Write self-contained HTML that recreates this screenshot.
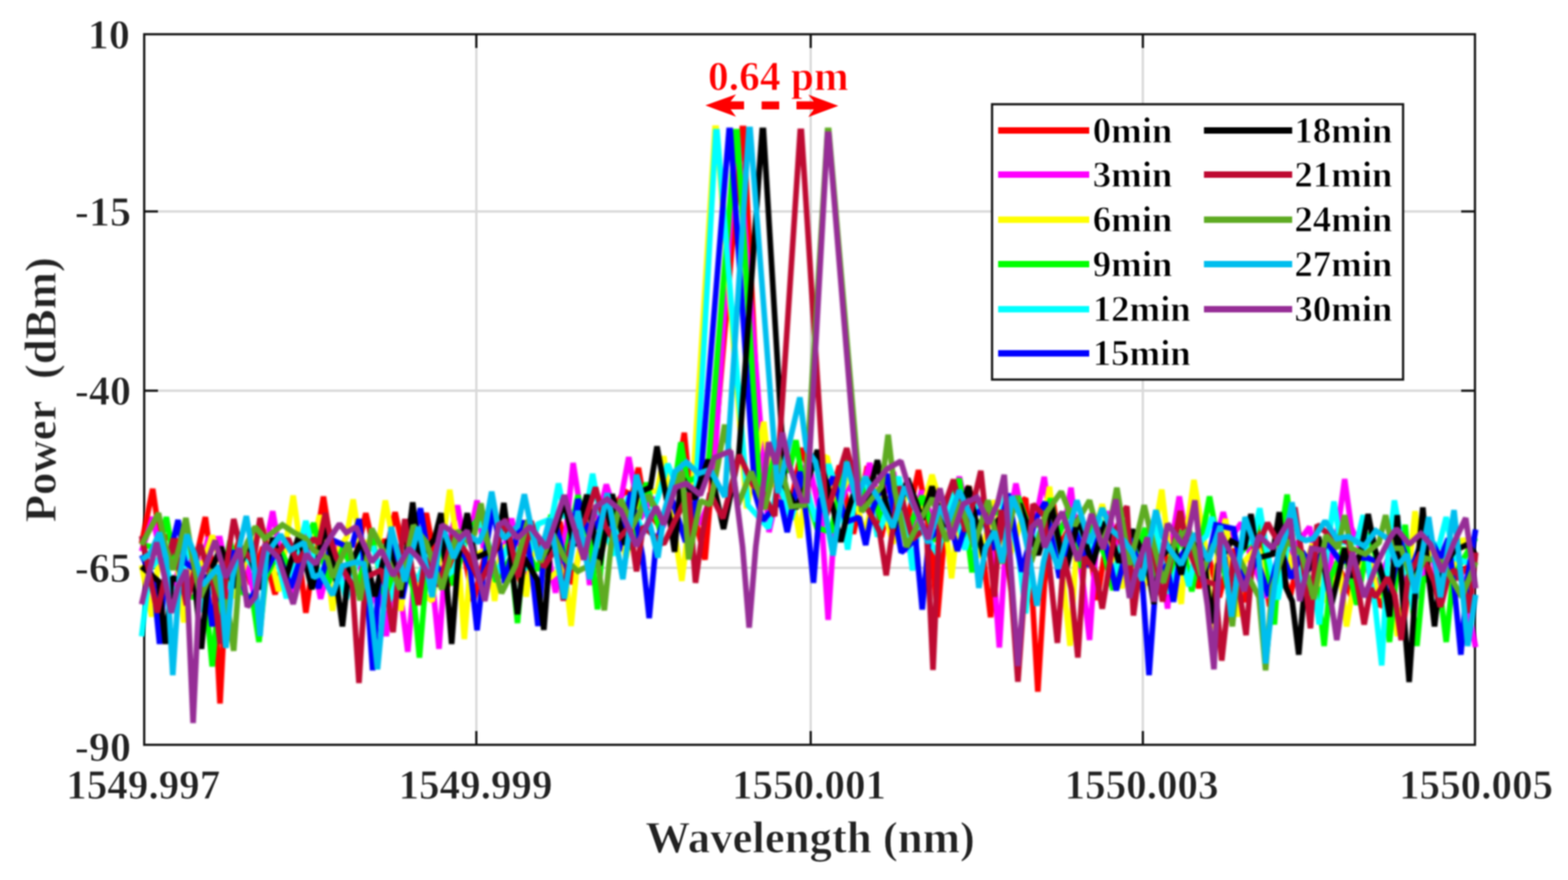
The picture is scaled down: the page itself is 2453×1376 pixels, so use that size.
<!DOCTYPE html>
<html lang="en"><head><meta charset="utf-8"><title>Wavelength stability</title>
<style>
html,body{margin:0;padding:0;background:#fff}
body{width:2453px;height:1376px;overflow:hidden}
svg{display:block}
text{font-family:"Liberation Serif","DejaVu Serif",serif;font-weight:bold;stroke:#fff;stroke-width:1.1px;stroke-linejoin:round}
.tk{font-size:66px;fill:#222}
.lb{font-size:70px;fill:#222}
.lg{font-size:57.5px;fill:#000}
.an{font-size:66px;fill:#ff0000}
.s{fill:none;stroke-width:8.8;stroke-linejoin:miter;stroke-miterlimit:1.45;stroke-linecap:butt}
</style></head>
<body>
<svg width="2453" height="1376" viewBox="0 0 2453 1376">
<rect width="2453" height="1376" fill="#fff"/>
<filter id="sf" x="0" y="0" width="2453" height="1376" filterUnits="userSpaceOnUse" color-interpolation-filters="sRGB"><feGaussianBlur stdDeviation="1.0"/></filter>
<g filter="url(#sf)">
<g stroke="#d9d9d9" stroke-width="3.6" fill="none">
<line x1="745.2" y1="53.5" x2="745.2" y2="1164.6"/>
<line x1="1268.3" y1="53.5" x2="1268.3" y2="1164.6"/>
<line x1="1787.9" y1="53.5" x2="1787.9" y2="1164.6"/>
<line x1="225.6" y1="330.6" x2="2307.4" y2="330.6"/>
<line x1="225.6" y1="610.9" x2="2307.4" y2="610.9"/>
<line x1="225.6" y1="887.9" x2="2307.4" y2="887.9"/>
</g>
<g stroke="#141414" stroke-width="3.5" fill="none">
<rect x="225.60" y="53.55" width="2081.85" height="1111.05"/>
<line x1="745.2" y1="53.5" x2="745.2" y2="75.0"/>
<line x1="745.2" y1="1164.6" x2="745.2" y2="1143.1"/>
<line x1="1268.3" y1="53.5" x2="1268.3" y2="75.0"/>
<line x1="1268.3" y1="1164.6" x2="1268.3" y2="1143.1"/>
<line x1="1787.9" y1="53.5" x2="1787.9" y2="75.0"/>
<line x1="1787.9" y1="1164.6" x2="1787.9" y2="1143.1"/>
<line x1="225.6" y1="330.6" x2="247.1" y2="330.6"/>
<line x1="2307.4" y1="330.6" x2="2285.9" y2="330.6"/>
<line x1="225.6" y1="610.9" x2="247.1" y2="610.9"/>
<line x1="2307.4" y1="610.9" x2="2285.9" y2="610.9"/>
<line x1="225.6" y1="887.9" x2="247.1" y2="887.9"/>
<line x1="2307.4" y1="887.9" x2="2285.9" y2="887.9"/>
</g>
</g>
<clipPath id="cp"><rect x="214" y="53.5" width="2102" height="1111.0"/></clipPath>
<filter id="bl" x="0" y="0" width="100%" height="100%" filterUnits="userSpaceOnUse" color-interpolation-filters="sRGB"><feGaussianBlur stdDeviation="1.5"/></filter>
<g clip-path="url(#cp)"><g filter="url(#bl)">
<polyline class="s" stroke="#ff0000" points="221.5,850.0 238.9,764.3 249.2,836.0 275.5,845.1 298.4,890.9 311.0,854.1 321.3,808.5 333.9,903.1 344.2,1100.0 354.5,903.1 373.4,847.0 392.4,913.6 411.3,855.3 430.3,929.3 449.2,845.1 468.2,872.6 478.5,958.1 495.7,839.5 506.0,776.5 516.3,842.1 539.1,926.9 562.0,848.2 572.3,802.4 582.6,848.2 607.8,845.6 618.1,800.9 628.4,848.2 656.6,844.2 666.9,802.4 677.2,857.4 698.3,924.2 719.4,832.4 740.5,939.8 761.6,857.4 773.8,909.2 786.0,857.4 794.3,853.7 814.7,910.7 835.0,831.2 855.4,879.8 875.7,815.9 896.1,913.4 916.4,812.1 936.8,848.7 957.1,796.6 977.5,768.2 988.5,774.4 998.8,731.6 1009.1,792.6 1034.7,827.2 1060.2,740.2 1070.5,676.6 1080.8,783.1 1103.0,875.0 1161.2,200.8 1163.2,200.8 1192.0,770.0 1212.8,741.2 1233.6,806.7 1254.4,700.7 1269.7,752.6 1291.5,802.7 1313.3,728.2 1335.1,834.6 1356.9,729.1 1378.7,840.1 1398.1,753.4 1417.5,823.9 1436.9,735.1 1456.3,843.1 1466.6,965.2 1476.9,843.1 1496.5,786.7 1516.1,760.7 1531.3,843.1 1539.4,878.1 1549.7,965.2 1560.0,843.1 1582.3,800.5 1604.6,779.0 1613.3,904.2 1623.6,1081.5 1633.9,913.7 1646.5,779.4 1658.7,852.6 1682.6,806.6 1706.4,870.9 1716.7,938.1 1727.0,870.9 1748.2,824.2 1769.3,929.9 1790.4,830.6 1811.6,906.6 1832.7,852.6 1848.0,809.9 1863.2,858.7 1875.4,919.8 1887.7,858.7 1907.4,933.8 1927.1,858.0 1946.8,941.4 1966.5,824.2 1986.2,948.1 2005.9,890.9 2018.1,933.7 2030.3,878.7 2048.6,921.6 2066.9,890.9 2079.1,933.7 2091.3,878.7 2114.0,932.4 2136.6,858.3 2159.2,948.3 2181.8,928.8 2192.1,997.8 2202.4,928.8 2222.7,856.5 2243.1,909.4 2253.4,952.0 2263.7,909.4 2280.8,903.1 2308.5,872.0"/>
<polyline class="s" stroke="#ff00ff" points="221.5,862.0 238.9,808.5 249.2,857.4 268.2,943.0 287.2,851.6 306.2,922.9 325.2,843.0 344.2,842.1 362.2,931.6 380.3,858.5 398.3,932.6 416.3,849.6 426.6,799.4 436.9,857.4 459.2,931.1 481.6,832.9 501.6,936.3 521.7,850.7 541.8,909.2 559.2,860.7 576.6,954.8 594.1,903.1 604.4,994.7 614.7,903.1 627.6,936.4 637.9,1019.1 648.2,903.1 676.5,909.2 686.8,1014.5 697.1,872.6 705.5,837.1 715.8,790.2 726.1,848.2 736.0,832.6 746.3,782.6 756.6,857.4 778.5,898.5 800.4,810.9 819.9,912.4 839.3,839.5 858.8,872.0 869.1,926.9 886.3,823.1 896.6,723.9 912.2,823.1 922.5,914.7 932.8,823.1 948.5,757.5 965.2,810.9 973.3,770.0 983.6,714.8 993.9,770.0 1001.9,810.9 1019.5,777.4 1037.2,824.5 1054.9,757.5 1065.2,716.0 1075.5,770.9 1095.2,819.9 1115.0,770.0 1151.4,207.8 1153.4,207.8 1203.0,832.0 1220.8,752.6 1242.3,785.8 1263.8,718.5 1285.3,813.7 1295.6,969.3 1305.9,813.7 1325.5,758.7 1345.2,782.1 1360.4,724.1 1375.7,788.2 1397.7,738.0 1419.6,863.1 1441.6,767.3 1463.6,825.6 1485.6,797.4 1500.8,745.5 1516.1,812.6 1534.6,778.9 1553.1,873.7 1563.4,1012.5 1573.7,843.1 1589.3,756.1 1604.6,830.9 1623.3,797.4 1633.6,745.5 1643.9,822.1 1665.2,822.1 1675.5,762.6 1685.8,852.6 1694.2,911.8 1704.5,1000.7 1714.8,852.6 1735.1,799.8 1755.4,905.8 1775.7,839.8 1796.0,914.3 1816.3,870.9 1826.6,951.8 1834.6,837.4 1844.9,776.3 1855.2,837.4 1879.3,900.5 1903.3,842.9 1913.6,800.7 1923.9,842.9 1941.8,817.7 1957.0,872.6 1981.5,934.1 2005.9,878.7 2027.2,853.4 2048.6,823.8 2070.9,929.6 2093.3,824.7 2103.6,749.0 2113.9,824.7 2128.2,857.4 2151.1,921.9 2174.0,867.1 2196.9,908.3 2219.8,933.7 2238.1,857.5 2256.4,939.3 2274.7,842.4 2293.0,933.7 2308.5,1012.0"/>
<polyline class="s" stroke="#ffff00" points="221.5,884.0 237.4,964.2 247.7,878.7 277.4,878.7 287.7,973.3 298.0,890.9 318.3,878.7 332.0,837.5 345.7,878.7 367.6,934.8 389.5,857.7 411.3,826.8 423.6,872.6 435.8,924.5 448.4,842.1 458.7,774.9 469.0,848.2 489.6,851.7 499.9,805.5 510.1,872.6 520.4,955.0 530.7,857.4 542.2,840.0 552.5,781.0 562.8,848.2 592.5,848.2 602.8,782.6 616.9,857.4 627.2,955.0 637.5,872.6 656.8,925.0 676.1,939.8 693.3,842.1 703.6,765.8 716.1,857.4 726.4,999.3 736.7,872.6 763.5,857.4 773.8,939.8 784.1,857.4 794.3,853.7 813.0,859.8 823.3,933.0 833.6,853.7 858.4,905.0 883.2,884.2 893.5,978.8 903.8,872.0 922.7,790.7 941.6,862.7 960.5,788.2 979.4,872.1 998.2,784.3 1017.1,768.2 1028.2,768.2 1038.5,713.3 1048.8,792.6 1056.4,838.1 1066.7,908.3 1082.5,780.0 1118.5,200.3 1120.5,200.3 1168.0,795.0 1194.9,659.5 1205.2,752.6 1241.0,783.1 1251.3,841.1 1261.6,752.6 1280.3,709.9 1294.1,716.0 1309.3,783.1 1330.3,742.5 1351.3,834.0 1374.2,762.3 1397.0,849.8 1419.9,760.7 1442.8,797.4 1458.1,742.4 1478.3,812.6 1488.6,904.2 1498.9,812.6 1534.4,870.6 1555.8,782.4 1577.1,876.5 1598.5,812.6 1631.6,822.1 1641.9,761.0 1652.2,852.6 1663.7,911.8 1674.0,1009.8 1684.3,852.6 1710.6,837.4 1724.4,788.5 1738.1,846.5 1754.9,919.8 1768.6,852.6 1787.9,926.5 1807.2,825.5 1817.5,765.6 1827.8,852.6 1848.0,944.2 1857.5,822.1 1867.8,750.4 1885.0,852.6 1895.3,983.9 1905.6,857.4 1917.4,811.6 1925.4,872.6 1935.7,964.2 1946.0,878.7 1967.5,854.4 1988.9,925.2 2010.4,855.8 2031.9,913.1 2053.4,850.5 2074.8,941.5 2096.3,890.9 2106.6,979.4 2116.9,918.4 2136.5,849.1 2156.1,932.8 2175.7,903.1 2186.0,994.7 2203.4,903.1 2213.7,799.4 2224.0,878.7 2246.3,856.3 2268.6,903.1 2288.6,842.1 2308.5,884.0"/>
<polyline class="s" stroke="#00ff00" points="221.5,852.0 250.0,857.4 260.3,808.5 270.6,866.5 296.1,933.4 321.7,933.7 332.0,1042.0 342.3,933.7 359.8,845.5 377.4,925.2 394.9,935.6 405.2,1003.9 415.5,903.1 437.9,858.7 460.2,903.1 490.7,817.7 513.8,912.0 537.0,855.9 560.1,915.3 581.6,837.5 603.0,938.8 624.5,855.2 645.9,918.4 656.2,1028.3 666.5,903.1 688.0,851.5 709.5,914.8 730.9,833.7 752.4,805.5 775.8,909.4 799.3,872.0 809.6,974.2 819.9,853.7 841.0,892.2 862.0,805.2 883.1,875.9 904.2,774.3 924.4,853.7 934.7,952.9 945.0,823.1 967.0,797.2 989.0,859.0 1010.9,754.8 1032.9,831.5 1054.9,762.1 1065.2,691.6 1075.5,752.6 1107.0,740.0 1151.2,205.8 1153.2,205.8 1190.0,790.0 1212.5,711.3 1234.9,737.4 1245.2,688.5 1255.5,752.6 1277.9,825.2 1300.2,832.0 1324.6,716.0 1339.9,783.1 1359.3,753.5 1378.7,812.6 1400.1,765.0 1421.5,828.3 1442.8,775.4 1464.2,846.6 1485.6,797.4 1500.8,748.5 1510.4,812.6 1520.7,895.0 1531.0,818.7 1554.0,797.5 1577.1,812.6 1592.4,776.0 1607.7,818.7 1631.3,822.1 1643.5,779.4 1655.7,837.4 1674.0,795.0 1692.3,888.2 1710.6,821.0 1728.9,870.9 1741.1,922.8 1753.4,852.6 1772.4,885.1 1791.5,825.8 1810.6,903.8 1829.7,913.7 1847.1,829.1 1864.5,924.7 1881.9,832.1 1892.2,776.3 1902.5,832.1 1921.7,924.7 1940.9,864.3 1960.1,842.1 1972.3,808.5 1983.4,890.9 1993.7,976.4 2003.2,842.1 2013.5,773.4 2023.8,857.4 2042.5,929.2 2061.2,918.4 2071.5,1010.0 2081.8,903.1 2102.2,856.2 2122.6,945.6 2143.0,832.6 2163.5,918.4 2173.8,1003.9 2184.1,903.1 2198.4,820.7 2206.4,918.4 2216.7,1010.0 2227.0,903.1 2252.2,918.4 2262.5,1003.9 2272.8,903.1 2308.5,841.0"/>
<polyline class="s" stroke="#00ffff" points="221.5,995.0 234.3,890.9 255.1,865.6 275.8,944.4 296.6,849.5 317.3,956.6 338.1,890.9 359.5,918.4 383.9,866.5 408.3,909.2 428.3,849.9 448.2,935.5 468.2,855.7 478.5,814.6 488.8,857.4 499.1,903.1 520.4,857.1 541.8,936.6 563.2,860.4 584.5,857.4 608.9,940.1 633.4,872.6 652.4,908.7 671.5,862.4 690.6,907.9 709.7,890.9 732.6,831.4 755.4,817.7 777.0,898.5 798.6,843.6 820.2,891.4 841.8,819.3 863.4,810.9 873.7,756.0 884.0,806.4 916.8,798.7 927.1,740.7 937.4,798.7 960.4,868.5 983.4,775.3 1006.4,834.1 1029.3,777.4 1044.6,725.5 1059.9,762.1 1088.0,780.0 1119.8,205.8 1121.8,205.8 1170.0,790.0 1202.5,825.9 1217.8,752.6 1237.4,812.6 1257.0,747.5 1276.6,815.3 1296.2,725.8 1315.8,783.1 1326.1,859.4 1336.4,783.1 1354.6,745.3 1372.8,839.2 1390.9,788.2 1406.2,745.5 1417.3,812.6 1427.6,892.0 1437.9,818.7 1467.2,867.6 1488.4,771.4 1509.6,859.5 1530.8,783.8 1552.0,858.8 1573.1,775.3 1594.3,873.7 1604.6,959.1 1614.9,855.3 1636.1,810.5 1657.3,878.4 1678.5,813.0 1699.7,869.9 1720.8,811.5 1742.0,901.3 1763.2,818.5 1784.4,908.0 1805.6,810.5 1826.8,927.7 1848.0,870.9 1860.2,916.7 1872.4,852.6 1887.7,837.4 1896.0,808.5 1908.2,857.4 1925.6,912.6 1943.1,856.1 1960.5,842.1 1970.8,794.8 1981.1,857.4 1999.2,937.2 2017.3,834.9 2035.5,908.7 2053.6,903.1 2063.9,976.4 2076.5,857.4 2086.8,784.1 2097.1,848.2 2122.5,848.3 2132.8,805.5 2143.1,903.1 2151.3,946.9 2161.6,1040.5 2171.1,872.6 2181.4,782.6 2191.7,842.1 2211.2,953.4 2230.8,836.1 2250.3,857.4 2262.5,808.5 2274.7,872.6 2308.5,884.0"/>
<polyline class="s" stroke="#0000ff" points="221.5,868.0 239.3,903.1 249.6,1006.9 259.9,872.6 268.3,856.2 278.6,813.1 288.9,878.7 321.7,903.1 332.0,979.4 342.3,903.1 365.3,861.1 388.3,942.6 411.3,903.1 433.1,858.7 454.8,919.0 476.6,854.5 498.3,919.9 520.0,844.3 541.8,854.3 551.3,852.4 561.6,811.6 572.7,903.1 583.0,1048.1 593.3,903.1 611.4,835.9 629.4,935.9 647.5,842.1 657.8,794.8 668.1,857.4 690.7,898.0 713.4,839.8 736.0,890.9 746.3,985.6 760.4,857.4 770.7,793.3 781.0,848.2 789.7,911.7 803.5,853.7 818.7,814.0 831.3,884.2 841.6,978.8 851.9,853.7 869.3,818.6 886.8,890.2 904.2,780.4 922.5,838.4 950.0,792.6 968.4,861.7 986.9,769.6 1005.3,870.5 1015.6,966.6 1025.9,853.7 1049.3,774.4 1072.6,847.4 1096.0,750.0 1140.5,203.8 1142.5,203.8 1181.0,770.0 1193.4,813.7 1221.2,783.1 1231.5,832.0 1251.3,737.4 1262.4,813.7 1272.7,911.3 1283.0,783.1 1303.3,745.9 1323.7,816.1 1344.0,808.8 1354.3,852.3 1364.6,797.4 1387.3,741.0 1409.9,864.0 1432.5,843.1 1442.8,953.0 1453.1,843.1 1485.6,812.6 1497.8,861.5 1513.0,812.6 1534.4,798.0 1555.8,859.4 1577.1,771.8 1598.5,893.8 1619.9,812.6 1635.1,785.1 1657.4,903.8 1679.6,822.3 1701.9,886.1 1724.1,825.3 1746.4,923.2 1768.6,834.3 1787.3,913.7 1797.6,1055.6 1807.9,913.7 1825.5,883.1 1835.8,941.1 1846.1,870.9 1864.7,846.9 1883.4,904.3 1902.1,820.7 1929.6,826.8 1947.9,917.1 1966.2,872.6 1984.5,931.7 2002.8,857.4 2020.1,904.1 2037.4,862.6 2054.7,890.9 2076.1,847.9 2097.5,878.7 2116.0,872.6 2140.2,872.6 2155.7,878.7 2173.0,940.1 2190.3,845.8 2207.6,890.9 2230.5,829.1 2253.4,872.6 2265.6,842.1 2275.1,918.4 2285.4,1023.7 2295.7,903.1 2308.5,828.0"/>
<polyline class="s" stroke="#000000" points="221.5,886.0 248.4,909.2 258.7,1006.9 269.0,903.1 304.9,915.3 315.2,1014.5 325.5,903.1 345.8,855.3 366.1,919.0 386.4,852.1 406.7,921.3 427.0,841.2 447.3,903.4 467.6,836.9 487.9,921.3 508.2,820.7 525.4,903.1 535.7,979.4 546.0,887.9 566.3,845.2 586.6,932.4 606.9,844.2 627.2,933.7 645.6,785.6 655.9,872.6 679.5,843.3 689.8,802.4 706.6,1006.9 716.9,872.6 731.0,802.4 743.2,872.6 777.9,857.4 788.2,786.5 799.3,872.0 809.6,960.5 819.9,872.0 840.5,906.5 850.8,984.9 861.1,853.7 882.8,783.5 898.1,853.7 918.0,773.5 937.9,884.1 957.8,772.8 977.7,851.8 997.6,770.9 1017.5,762.1 1027.8,698.0 1045.0,792.6 1055.3,862.8 1065.6,743.5 1086.5,780.1 1107.9,719.0 1131.9,827.2 1156.0,710.0 1192.4,203.8 1194.4,203.8 1228.0,760.0 1245.2,795.3 1263.6,752.6 1278.8,703.8 1297.1,770.9 1305.1,803.0 1315.4,847.2 1325.7,803.0 1333.8,777.0 1357.4,782.1 1372.6,719.5 1384.8,782.1 1397.0,830.9 1419.9,748.2 1442.8,812.6 1458.1,760.7 1473.4,812.6 1491.7,830.9 1515.1,760.6 1538.5,870.2 1561.9,812.6 1595.4,788.2 1610.7,830.9 1624.4,867.6 1645.5,792.0 1666.5,897.0 1687.5,810.1 1708.6,883.6 1729.6,815.9 1750.6,879.4 1771.7,828.2 1794.9,883.1 1805.2,944.2 1815.5,870.9 1835.8,852.6 1848.0,898.4 1860.2,837.4 1885.0,883.1 1895.3,974.7 1905.6,883.1 1926.2,846.2 1946.7,857.4 1957.0,803.9 1967.3,872.6 1991.0,866.5 2001.3,800.9 2011.6,918.4 2021.5,939.9 2031.8,1023.7 2042.1,903.1 2062.6,839.4 2083.1,945.5 2103.6,857.4 2115.8,903.1 2130.1,857.4 2140.4,803.9 2150.7,857.4 2163.5,903.1 2173.8,964.2 2186.0,805.5 2194.2,933.7 2204.5,1066.4 2215.6,903.1 2225.9,793.3 2233.9,890.9 2244.2,979.4 2254.5,890.9 2275.3,861.1 2296.1,851.2 2308.5,868.0"/>
<polyline class="s" stroke="#be0a32" points="221.5,838.0 246.2,957.8 270.9,842.1 291.9,946.4 312.9,851.1 333.9,915.3 344.2,1006.9 355.3,878.7 365.6,811.6 375.9,855.1 396.5,878.7 406.8,810.0 417.1,854.2 435.8,863.5 451.0,842.1 464.8,878.7 490.7,842.1 498.7,850.4 509.0,802.4 519.3,850.4 526.5,872.6 551.3,915.3 561.6,1068.0 571.9,903.1 596.7,890.9 604.7,924.6 615.0,988.6 625.3,872.6 633.4,811.6 644.4,890.9 654.7,945.9 665.0,872.6 687.0,916.3 709.0,835.2 731.0,866.5 750.9,911.0 770.7,872.6 790.8,811.6 810.8,902.3 830.9,814.8 850.9,887.1 871.0,853.7 881.3,939.1 891.6,853.7 916.4,810.9 931.7,762.1 946.9,823.1 962.2,847.6 985.5,823.1 995.8,893.3 1006.1,823.1 1038.5,850.6 1056.0,813.7 1077.7,770.9 1088.0,911.3 1098.3,836.0 1110.9,770.9 1130.8,810.6 1156.7,711.4 1178.1,758.7 1193.4,770.9 1212.0,807.0 1251.8,205.3 1253.8,205.3 1292.5,807.0 1324.6,700.7 1334.9,742.3 1342.9,770.9 1366.5,812.6 1376.1,831.8 1386.4,899.6 1406.2,760.7 1427.6,843.1 1449.3,824.8 1459.6,1047.6 1469.9,812.6 1491.7,750.0 1510.0,830.9 1524.1,780.1 1534.4,736.3 1555.8,933.2 1566.1,797.4 1582.1,925.3 1592.4,1066.0 1602.7,925.3 1616.0,788.5 1633.6,806.5 1654.2,1005.2 1664.5,870.9 1675.9,921.1 1686.2,1028.1 1696.5,870.9 1714.1,893.8 1724.4,951.8 1744.2,831.2 1762.9,791.6 1773.2,962.5 1783.5,883.1 1801.0,837.1 1818.6,940.6 1836.1,852.6 1846.4,799.2 1856.7,852.6 1878.9,906.3 1901.0,913.7 1911.3,1032.9 1921.6,940.3 1929.6,872.6 1939.1,924.7 1949.4,993.2 1959.7,872.6 1983.0,817.7 1999.8,848.2 2015.4,842.9 2025.7,793.3 2039.8,890.9 2050.1,982.5 2060.4,820.7 2079.1,836.0 2109.7,848.2 2123.8,915.3 2134.1,976.4 2144.4,920.1 2152.4,933.7 2170.7,903.1 2181.8,930.1 2192.1,1000.8 2202.4,903.1 2222.7,863.9 2243.1,908.1 2253.4,948.9 2263.7,908.1 2274.7,890.9 2288.8,911.7 2299.1,958.1 2308.5,864.0"/>
<polyline class="s" stroke="#5eab22" points="221.5,852.0 248.0,802.4 258.3,851.9 270.9,890.9 280.5,854.9 290.8,810.0 301.1,872.6 313.7,933.7 332.0,890.9 347.2,939.8 355.3,941.6 365.6,1017.6 375.9,878.7 386.9,848.2 399.1,823.8 414.4,842.1 441.9,820.7 460.2,832.9 478.5,842.1 490.7,860.4 512.1,872.6 520.4,903.1 544.8,848.2 563.2,938.7 581.5,826.8 605.9,872.6 626.2,921.7 646.6,821.4 666.9,848.2 691.3,921.5 715.8,829.9 734.1,848.2 742.1,834.3 752.4,787.2 762.7,848.2 784.6,927.4 806.5,884.2 826.1,813.1 845.6,879.1 865.1,834.7 884.7,875.6 904.2,893.3 935.1,877.2 945.4,954.4 955.7,853.7 971.3,780.4 989.7,823.1 1014.1,774.3 1035.4,810.9 1067.1,737.4 1077.4,874.7 1087.7,822.3 1095.7,783.1 1110.9,789.2 1123.5,725.1 1133.8,664.1 1154.6,789.3 1175.4,737.4 1196.2,796.1 1216.9,710.7 1237.7,792.1 1258.5,790.0 1294.6,203.8 1296.6,203.8 1348.0,800.0 1379.1,760.7 1389.4,679.8 1399.7,766.8 1418.4,855.3 1436.7,818.7 1458.5,778.9 1480.3,845.9 1502.1,784.9 1523.9,854.8 1545.7,782.2 1567.5,881.1 1589.3,776.0 1613.4,878.6 1637.4,800.7 1660.3,768.7 1681.6,822.1 1704.5,782.4 1722.8,852.6 1736.9,817.1 1747.2,762.6 1767.1,883.1 1779.7,834.0 1790.0,790.0 1800.3,834.0 1820.2,911.4 1840.2,840.8 1860.2,828.2 1879.4,899.6 1898.6,850.9 1917.7,890.9 1928.0,979.4 1938.3,872.6 1969.6,933.7 1979.9,1048.1 1990.2,918.4 2013.3,845.7 2036.4,866.5 2055.4,936.8 2074.3,837.4 2093.3,857.4 2103.6,805.5 2113.9,857.4 2135.8,866.5 2157.4,848.2 2167.7,805.5 2178.0,857.4 2192.3,857.4 2210.6,913.0 2228.9,872.6 2256.4,878.7 2286.9,933.7 2308.5,879.0"/>
<polyline class="s" stroke="#00beee" points="221.5,875.0 234.3,866.5 249.6,832.9 260.0,872.6 270.3,1055.8 280.6,903.1 292.3,836.0 304.5,866.5 316.7,915.3 343.1,884.8 353.4,1013.0 363.7,903.1 375.1,853.0 385.4,807.0 396.5,872.6 406.8,994.7 417.1,866.5 438.8,836.0 454.1,860.4 475.4,848.2 490.7,903.1 502.1,897.0 520.4,930.6 535.7,884.8 557.0,878.7 569.3,881.8 580.3,949.9 590.6,1046.6 612.0,823.8 633.4,909.2 654.7,823.8 676.1,933.7 691.3,820.7 709.7,872.6 728.0,832.9 749.3,848.2 758.9,825.9 769.2,768.8 779.5,825.9 789.0,842.1 810.0,822.7 820.3,772.8 830.6,822.7 843.2,875.0 859.9,810.9 882.8,936.1 904.2,798.7 922.5,905.6 950.0,771.2 974.4,905.6 995.8,742.3 1019.0,828.6 1029.3,872.0 1039.6,798.7 1056.0,737.4 1073.6,722.4 1092.6,740.4 1110.9,734.3 1134.0,777.0 1171.6,202.3 1173.6,202.3 1217.0,771.0 1251.3,621.4 1261.6,701.9 1275.8,722.1 1292.9,810.8 1303.2,868.6 1324.6,722.1 1339.9,783.1 1353.6,746.5 1375.7,782.1 1397.0,824.8 1415.4,760.7 1436.7,806.5 1452.0,849.2 1470.3,791.2 1482.5,818.7 1500.8,766.8 1521.0,812.6 1531.3,919.4 1541.6,856.7 1555.8,830.9 1568.0,879.8 1583.2,776.0 1598.5,812.6 1611.8,879.1 1622.1,947.2 1632.4,879.1 1640.4,846.5 1655.7,889.2 1684.7,782.4 1704.5,849.6 1724.4,794.6 1738.1,828.2 1759.5,846.5 1771.7,864.8 1786.9,907.6 1808.3,797.7 1818.6,838.7 1829.7,858.7 1848.0,883.1 1869.3,834.3 1890.7,877.0 1909.0,822.1 1926.5,964.2 1947.9,808.5 1969.6,872.6 1979.9,1037.4 1990.2,944.2 1999.8,866.5 2010.8,839.6 2021.1,785.6 2031.4,839.6 2042.5,845.1 2054.7,842.1 2073.0,814.6 2091.3,842.1 2109.7,839.0 2134.1,854.3 2152.4,829.9 2170.7,842.1 2186.0,884.8 2201.5,866.5 2213.7,927.6 2235.0,808.5 2253.4,933.7 2274.7,797.8 2285.8,903.1 2296.1,1010.0 2308.5,930.0"/>
<polyline class="s" stroke="#962d96" points="221.5,945.0 234.3,890.9 245.0,848.2 257.6,903.1 267.9,958.1 278.2,917.2 291.8,890.9 302.1,1130.5 312.4,909.2 336.6,845.1 353.4,903.1 374.7,857.4 386.9,948.9 399.1,933.7 414.4,851.2 435.8,872.6 458.7,944.3 478.5,866.5 493.8,881.8 513.6,845.1 531.1,819.2 541.8,832.9 557.0,823.8 581.5,878.7 596.7,860.4 615.0,900.1 639.5,857.4 654.7,872.6 673.0,903.1 691.3,820.7 709.7,832.9 718.8,842.1 731.0,829.9 748.2,898.1 758.5,939.8 779.9,820.7 789.7,815.5 809.6,841.5 829.4,823.1 855.4,856.7 882.8,774.3 913.4,875.0 931.7,792.7 950.0,780.4 971.3,798.7 995.8,853.7 1026.3,792.6 1038.5,820.1 1056.8,762.1 1073.6,756.0 1095.7,774.0 1117.0,716.0 1143.0,705.3 1161.7,855.3 1172.0,981.5 1182.3,855.3 1202.5,691.6 1213.6,725.6 1223.9,676.3 1234.2,725.6 1254.4,783.1 1262.5,783.0 1294.6,209.8 1296.6,209.8 1344.0,790.0 1369.6,754.6 1387.9,733.3 1409.3,721.0 1427.6,782.1 1452.0,843.1 1470.3,763.8 1488.6,843.1 1506.9,788.2 1528.3,777.5 1546.6,818.7 1560.7,787.0 1571.0,742.4 1592.4,1041.5 1602.7,915.1 1613.8,824.8 1626.0,812.6 1634.3,855.7 1646.5,828.2 1661.8,800.7 1686.2,877.0 1707.6,803.8 1725.9,858.7 1735.4,824.6 1745.7,780.9 1767.1,935.0 1777.4,892.0 1794.9,840.4 1805.2,941.1 1826.6,819.0 1851.0,852.6 1859.0,834.0 1869.3,782.4 1879.6,883.1 1888.8,945.8 1899.1,1046.6 1909.4,832.9 1929.6,872.6 1946.4,924.5 1969.3,837.5 1990.6,857.4 2018.1,811.6 2033.4,939.8 2051.7,857.4 2070.0,860.4 2081.0,930.6 2091.3,1000.8 2101.6,930.6 2115.8,863.5 2134.3,933.7 2155.4,878.7 2173.8,842.1 2184.7,826.8 2204.5,851.2 2222.8,834.5 2238.1,851.2 2256.4,894.0 2274.7,848.2 2293.0,810.0 2308.5,920.0"/>
</g></g>
<g filter="url(#sf)">
<text class="tk" x="224.1" y="1249.2" text-anchor="middle" textLength="241" lengthAdjust="spacingAndGlyphs">1549.997</text>
<text class="tk" x="743.9" y="1249.2" text-anchor="middle" textLength="241" lengthAdjust="spacingAndGlyphs">1549.999</text>
<text class="tk" x="1265.7" y="1249.2" text-anchor="middle" textLength="241" lengthAdjust="spacingAndGlyphs">1550.001</text>
<text class="tk" x="1785.9" y="1249.2" text-anchor="middle" textLength="241" lengthAdjust="spacingAndGlyphs">1550.003</text>
<text class="tk" x="2309.2" y="1249.2" text-anchor="middle" textLength="241" lengthAdjust="spacingAndGlyphs">1550.005</text>
<text class="tk" x="203.2" y="76.3" text-anchor="end">10</text>
<text class="tk" x="205.0" y="353.2" text-anchor="end">-15</text>
<text class="tk" x="205.0" y="633.4" text-anchor="end">-40</text>
<text class="tk" x="205.0" y="910.3" text-anchor="end">-65</text>
<text class="tk" x="205.0" y="1190.4" text-anchor="end">-90</text>
<text class="lb" x="1267.5" y="1333" text-anchor="middle">Wavelength (nm)</text>
<text class="lb" transform="translate(87,609.5) rotate(-90)" text-anchor="middle" xml:space="preserve">Power  (dBm)</text>
<text class="an" x="1217.5" y="141" text-anchor="middle" textLength="220" lengthAdjust="spacingAndGlyphs">0.64 pm</text>
<g fill="#ff0000" stroke="none">
<path d="M1103.5 164.8 L1151.5 147.5 L1143 158.6 L1164 158.6 L1164 171 L1143 171 L1151.5 182.5 Z"/>
<rect x="1191.5" y="158.6" width="27.5" height="12.4"/>
<path d="M1311.5 165.5 L1264.5 148 L1273 158.6 L1246 158.6 L1246 171 L1273 171 L1264.5 183 Z"/>
</g>
<rect x="1552.0" y="163.0" width="643.0" height="430.5" fill="#fff" stroke="#141414" stroke-width="3.5"/>
<line x1="1561.5" y1="204.0" x2="1704.0" y2="204.0" stroke="#ff0000" stroke-width="10"/>
<text class="lg" x="1709.5" y="222.5">0min</text>
<line x1="1561.5" y1="273.0" x2="1704.0" y2="273.0" stroke="#ff00ff" stroke-width="10"/>
<text class="lg" x="1709.5" y="291.5">3min</text>
<line x1="1561.5" y1="343.5" x2="1704.0" y2="343.5" stroke="#ffff00" stroke-width="10"/>
<text class="lg" x="1709.5" y="362.0">6min</text>
<line x1="1561.5" y1="413.0" x2="1704.0" y2="413.0" stroke="#00ff00" stroke-width="10"/>
<text class="lg" x="1709.5" y="431.5">9min</text>
<line x1="1561.5" y1="483.5" x2="1704.0" y2="483.5" stroke="#00ffff" stroke-width="10"/>
<text class="lg" x="1709.5" y="502.0">12min</text>
<line x1="1561.5" y1="552.5" x2="1704.0" y2="552.5" stroke="#0000ff" stroke-width="10"/>
<text class="lg" x="1709.5" y="571.0">15min</text>
<line x1="1883.5" y1="204.0" x2="2021.5" y2="204.0" stroke="#000000" stroke-width="10"/>
<text class="lg" x="2025.0" y="222.5">18min</text>
<line x1="1883.5" y1="273.0" x2="2021.5" y2="273.0" stroke="#be0a32" stroke-width="10"/>
<text class="lg" x="2025.0" y="291.5">21min</text>
<line x1="1883.5" y1="343.5" x2="2021.5" y2="343.5" stroke="#5eab22" stroke-width="10"/>
<text class="lg" x="2025.0" y="362.0">24min</text>
<line x1="1883.5" y1="413.0" x2="2021.5" y2="413.0" stroke="#00beee" stroke-width="10"/>
<text class="lg" x="2025.0" y="431.5">27min</text>
<line x1="1883.5" y1="483.5" x2="2021.5" y2="483.5" stroke="#962d96" stroke-width="10"/>
<text class="lg" x="2025.0" y="502.0">30min</text>
</g>
</svg>
</body></html>
